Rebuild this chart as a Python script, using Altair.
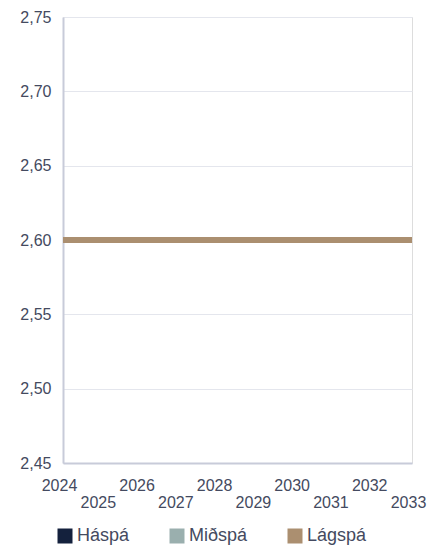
import altair as alt
import pandas as pd

years = [2024, 2025, 2026, 2027, 2028, 2029, 2030, 2031, 2032, 2033]
series_names = ["Háspá", "Miðspá", "Lágspá"]
hasp = [2.60, 2.60, 2.60, 2.60, 2.60, 2.60, 2.60, 2.60, 2.60, 2.60]
midsp = [2.60, 2.60, 2.60, 2.60, 2.60, 2.60, 2.60, 2.60, 2.60, 2.60]
lagsp = [2.60, 2.60, 2.60, 2.60, 2.60, 2.60, 2.60, 2.60, 2.60, 2.60]
y_ticks = [2.45, 2.50, 2.55, 2.60, 2.65, 2.70, 2.75]
colors = ["#14213d", "#9aafae", "#ab8f70"]

rows = []
for name, vals in zip(series_names, [hasp, midsp, lagsp]):
    for yr, v in zip(years, vals):
        rows.append({"Ár": yr, "Gildi": v, "Spá": name})
df = pd.DataFrame(rows)

FONT = "Liberation Sans"
TXT = "#444a60"

x_enc = alt.X(
    "Ár:Q",
    scale=alt.Scale(domain=[years[0], years[-1]], nice=False, zero=False),
    axis=alt.Axis(
        values=years,
        title=None,
        grid=False,
        ticks=False,
        domainColor="#c8cbd9",
        domainWidth=2,
        labelFont=FONT,
        labelFontSize=16,
        labelColor=TXT,
        labelPadding=14,
        labelBaseline="top",
        labelLineHeight=17,
        labelOverlap=False,
        labelFlush=False,
        labelOffset=-4,
        labelExpr="datum.value % 2 == 0 ? datum.value + '' : ['', datum.value + '']",
    ),
)
y_enc = alt.Y(
    "Gildi:Q",
    scale=alt.Scale(domain=[2.45, 2.75], nice=False, zero=False),
    axis=alt.Axis(
        values=y_ticks,
        title=None,
        ticks=False,
        gridColor="#e4e6ed",
        gridWidth=1,
        domainColor="#c8cbd9",
        domainWidth=2,
        labelFont=FONT,
        labelFontSize=16,
        labelColor=TXT,
        labelPadding=12,
        labelExpr="replace(format(datum.value, '.2f'), '.', ',')",
    ),
)
color_enc = alt.Color(
    "Spá:N",
    scale=alt.Scale(domain=series_names, range=colors),
    sort=series_names,
    legend=alt.Legend(
        title=None,
        orient="none",
        legendX=-7,
        legendY=510,
        direction="horizontal",
        columns=3,
        columnPadding=20,
        symbolType="square",
        symbolSize=4,
        symbolStrokeWidth=13,
        symbolOpacity=1,
        labelFont=FONT,
        labelFontSize=18,
        labelColor=TXT,
        labelOffset=3,
    ),
)

base = alt.Chart(df)
layers = []
for name in series_names:
    layers.append(
        base.transform_filter(alt.datum["Spá"] == name)
        .mark_line(strokeWidth=6, strokeCap="butt")
        .encode(x=x_enc, y=y_enc, color=color_enc)
    )

chart = (
    alt.layer(*layers)
    .properties(
        width=349,
        height=446,
        autosize=alt.AutoSizeParams(type="none"),
        padding={"left": 55, "top": 9, "right": 20, "bottom": 84},
    )
    .configure_view(strokeWidth=0, stroke="transparent")
    .configure(background="white")
)

chart.save("out.html", embed_options={"renderer": "svg", "actions": False})
